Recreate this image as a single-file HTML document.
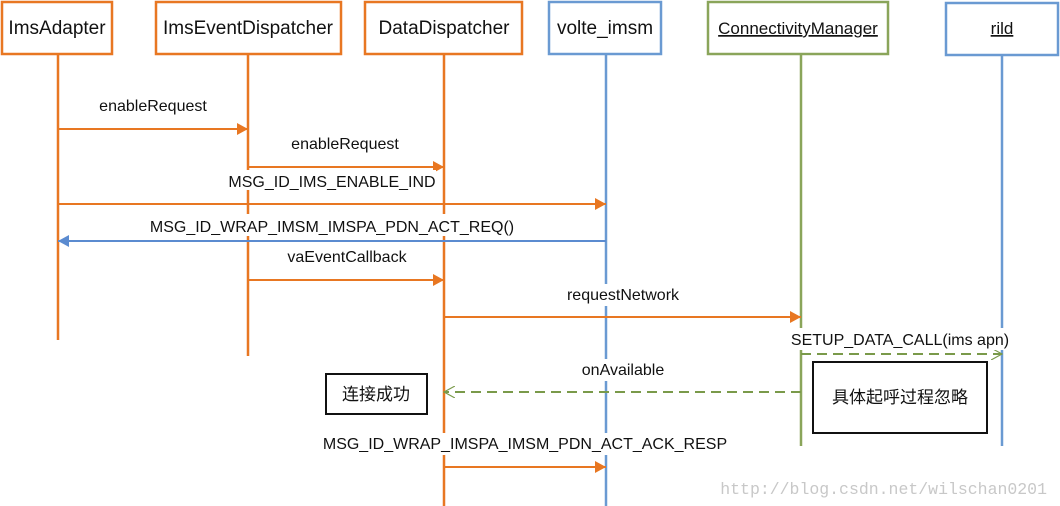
<!DOCTYPE html>
<html><head><meta charset="utf-8"><style>
html,body{margin:0;padding:0;background:#fff;}
svg{display:block;}
text{font-family:"Liberation Sans","Noto Sans CJK SC",sans-serif;fill:#111;}
</style></head><body>
<svg width="1060" height="506" viewBox="0 0 1060 506" xmlns="http://www.w3.org/2000/svg">
<defs>
<marker id="ao" markerWidth="12" markerHeight="12" refX="11" refY="6" orient="auto" markerUnits="userSpaceOnUse"><path d="M0,0 L11,6 L0,12 z" fill="#e87722"/></marker>
<marker id="ab" markerWidth="12" markerHeight="12" refX="11" refY="6" orient="auto" markerUnits="userSpaceOnUse"><path d="M0,0 L11,6 L0,12 z" fill="#5b8bd0"/></marker>
<marker id="ag" markerWidth="12" markerHeight="12" refX="11" refY="6" orient="auto" markerUnits="userSpaceOnUse"><path d="M0,0 L11,6 L0,12" fill="none" stroke="#7a9a4a" stroke-width="1.2"/></marker>
</defs>
<g stroke-width="2.5" fill="none">
<line x1="58" y1="54" x2="58" y2="340" stroke="#e87722"/>
<line x1="248" y1="54" x2="248" y2="356" stroke="#e87722"/>
<line x1="444" y1="54" x2="444" y2="506" stroke="#e87722"/>
<line x1="606" y1="54" x2="606" y2="506" stroke="#6a9ad2"/>
<line x1="801" y1="54" x2="801" y2="446" stroke="#8aa55a"/>
<line x1="1002" y1="54" x2="1002" y2="446" stroke="#6a9ad2"/>
</g>
<g stroke-width="2.5" fill="#fff">
<rect x="2" y="2" width="110" height="52" stroke="#e87722"/>
<rect x="156" y="2" width="185" height="52" stroke="#e87722"/>
<rect x="365" y="2" width="157" height="52" stroke="#e87722"/>
<rect x="549" y="2" width="112" height="52" stroke="#6a9ad2"/>
<rect x="708" y="2" width="180" height="52" stroke="#8aa55a"/>
<rect x="946" y="3" width="112" height="52" stroke="#6a9ad2"/>
</g>
<g font-size="19" text-anchor="middle">
<text x="57" y="34">ImsAdapter</text>
<text x="248" y="34">ImsEventDispatcher</text>
<text x="444" y="34">DataDispatcher</text>
<text x="605" y="34">volte_imsm</text>
<text x="798" y="34" font-size="17" text-decoration="underline">ConnectivityManager</text>
<text x="1002" y="34" font-size="17" text-decoration="underline">rild</text>
</g>
<g stroke-width="2" fill="none">
<line x1="58" y1="129" x2="248" y2="129" stroke="#e87722" marker-end="url(#ao)"/>
<line x1="248" y1="167" x2="444" y2="167" stroke="#e87722" marker-end="url(#ao)"/>
<line x1="58" y1="204" x2="606" y2="204" stroke="#e87722" marker-end="url(#ao)"/>
<line x1="606" y1="241" x2="58" y2="241" stroke="#5b8bd0" marker-end="url(#ab)"/>
<line x1="248" y1="280" x2="444" y2="280" stroke="#e87722" marker-end="url(#ao)"/>
<line x1="444" y1="317" x2="801" y2="317" stroke="#e87722" marker-end="url(#ao)"/>
<line x1="801" y1="354" x2="1002" y2="354" stroke="#7a9a4a" stroke-dasharray="10,6" marker-end="url(#ag)"/>
<line x1="801" y1="392" x2="444" y2="392" stroke="#7a9a4a" stroke-dasharray="10,6" marker-end="url(#ag)"/>
<line x1="444" y1="467" x2="606" y2="467" stroke="#e87722" marker-end="url(#ao)"/>
</g>
<g fill="#fff">
<rect x="228" y="170" width="208" height="20"/>
<rect x="148" y="214" width="368" height="22"/>
<rect x="276" y="246" width="142" height="22"/>
<rect x="556" y="284" width="134" height="22"/>
<rect x="788" y="328" width="226" height="22"/>
<rect x="572" y="359" width="102" height="22"/>
<rect x="322" y="433" width="406" height="22"/>
</g>
<g font-size="16" text-anchor="middle">
<text x="153" y="111">enableRequest</text>
<text x="345" y="149">enableRequest</text>
<text x="332" y="187">MSG_ID_IMS_ENABLE_IND</text>
<text x="332" y="232">MSG_ID_WRAP_IMSM_IMSPA_PDN_ACT_REQ()</text>
<text x="347" y="262">vaEventCallback</text>
<text x="623" y="300">requestNetwork</text>
<text x="900" y="345">SETUP_DATA_CALL(ims apn)</text>
<text x="623" y="375">onAvailable</text>
<text x="525" y="449">MSG_ID_WRAP_IMSPA_IMSM_PDN_ACT_ACK_RESP</text>
</g>
<rect x="326" y="374" width="101" height="40" fill="#fff" stroke="#111" stroke-width="2"/>
<text x="376" y="400" font-size="17" text-anchor="middle">连接成功</text>
<rect x="813" y="362" width="174" height="71" fill="#fff" stroke="#111" stroke-width="2"/>
<text x="900" y="403" font-size="17" text-anchor="middle">具体起呼过程忽略</text>
<text x="1047" y="494" font-size="16.5" text-anchor="end" style="font-family:'Liberation Mono',monospace;fill:#c8c8c8">http://blog.csdn.net/wilschan0201</text>
</svg>
</body></html>
